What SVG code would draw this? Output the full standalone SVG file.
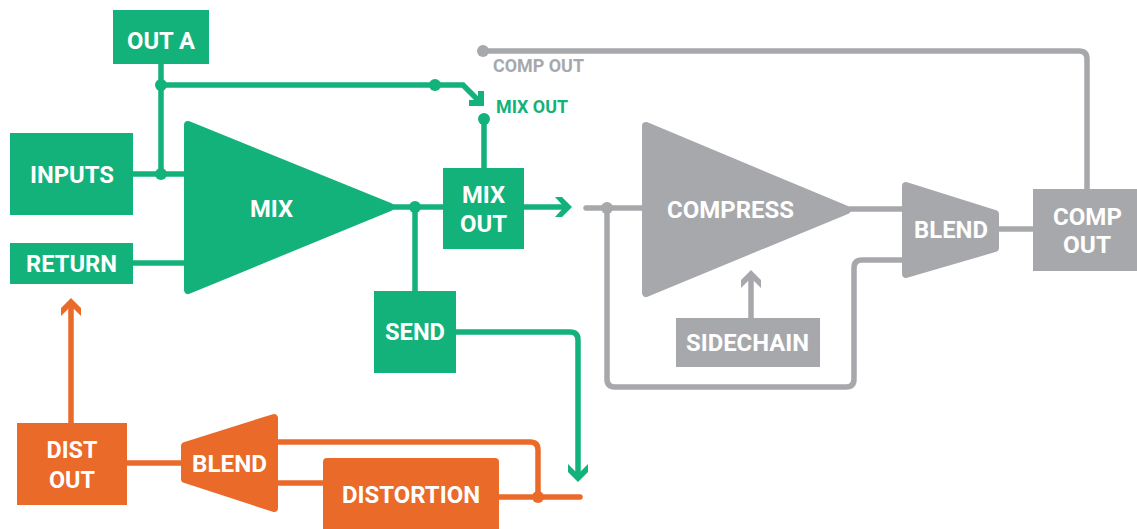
<svg xmlns="http://www.w3.org/2000/svg" width="1137" height="529" viewBox="0 0 1137 529">
<style>
.g{fill:#13B27B}.gs{stroke:#13B27B}
.y{fill:#A7A8AB}.ys{stroke:#A7A8AB}
.o{fill:#EA6A2A}.os{stroke:#EA6A2A}
.ln{fill:none;stroke-width:5.5;stroke-linecap:butt}
.rnd{stroke-linecap:round}
.t{font-family:Roboto,"Liberation Sans",sans-serif;font-weight:bold;font-size:24px;fill:#fff;text-anchor:middle}
.lbl{font-family:Roboto,"Liberation Sans",sans-serif;font-weight:bold;font-size:18px}
.shape{stroke-width:8;stroke-linejoin:round}
</style>
<rect width="1137" height="529" fill="#fff"/>
<g id="connectors">
  <!-- green -->
  <path class="ln gs" d="M161,64 V174"/>
  <path class="ln gs" d="M161,85 H463 L479,101"/>
  <path class="g" d="M484,106 L469,106 L469,100 L478,100 L478,91 L484,91 Z"/>
  <path class="ln gs" d="M133,174 H186"/>
  <path class="ln gs" d="M133,263 H186"/>
  <path class="ln gs" d="M392,207 H443"/>
  <path class="ln gs" d="M415,207 V291"/>
  <path class="ln gs" d="M484,119 V168"/>
  <path class="ln gs" d="M524,207 H567"/>
  <path class="g" d="M572,207 L562,197 L555,197 L564,207 L555,217 L562,217 Z"/>
  <path class="ln gs" d="M456,332 H570 Q578,332 578,340 V476"/>
  <path class="g" d="M578,482 L568,472 L568,464 L578,474 L588,464 L588,472 Z"/>
  <circle class="g" cx="161" cy="85" r="6"/>
  <circle class="g" cx="435" cy="85" r="6"/>
  <circle class="g" cx="161" cy="174" r="6"/>
  <circle class="g" cx="415" cy="207" r="6"/>
  <circle class="g" cx="484" cy="119" r="6"/>
  <!-- gray -->
  <path class="ln ys rnd" d="M586,208 H644"/>
  <path class="ln ys" d="M607,208 V379 Q607,387 615,387 H846 Q854,387 854,379 V268 Q854,260 862,260 H905"/>
  <circle class="y" cx="607" cy="208" r="6"/>
  <path class="ln ys" d="M849,209 H905"/>
  <path class="ln ys" d="M996,229 H1033"/>
  <path class="ln ys" d="M751,318 V276"/>
  <path class="y" d="M751,270 L761,280 L761,288 L751,278 L741,288 L741,280 Z"/>
  <path class="ln ys" d="M1087,189 V59 Q1087,51 1079,51 H483"/>
  <circle class="y" cx="483" cy="51" r="6"/>
  <!-- orange -->
  <path class="ln os" d="M71,423 V304"/>
  <path class="o" d="M71,298 L81,308 L81,316 L71,306 L61,316 L61,308 Z"/>
  <path class="ln os" d="M127,463 H184"/>
  <path class="ln os" d="M275,442 H530 Q538,442 538,450 V497"/>
  <path class="ln os" d="M275,483 H323"/>
  <path class="ln os rnd" d="M499,497 H580"/>
  <circle class="o" cx="538" cy="497" r="6"/>
</g>
<g id="out-a"><rect class="g" x="113" y="10" width="96" height="54"/><text class="t" x="161" y="49" textLength="68" lengthAdjust="spacingAndGlyphs">OUT A</text></g>
<g id="inputs"><rect class="g" x="10" y="133" width="123" height="82"/><text class="t" x="72" y="183" textLength="84" lengthAdjust="spacingAndGlyphs">INPUTS</text></g>
<g id="return"><rect class="g" x="10" y="243" width="123" height="41"/><text class="t" x="71.5" y="272" textLength="91" lengthAdjust="spacingAndGlyphs">RETURN</text></g>
<g id="mix"><polygon class="g gs shape" points="188,125 390,207 188,290"/><text class="t" x="271.5" y="217" textLength="43" lengthAdjust="spacingAndGlyphs">MIX</text></g>
<g id="mix-out"><rect class="g" x="443" y="168" width="81" height="81"/><text class="t" x="483.5" y="203" textLength="43" lengthAdjust="spacingAndGlyphs">MIX</text><text class="t" x="483.5" y="232" textLength="47" lengthAdjust="spacingAndGlyphs">OUT</text></g>
<g id="mix-out-label"><text class="lbl g" x="496" y="113" textLength="72" lengthAdjust="spacingAndGlyphs">MIX OUT</text></g>
<g id="comp-out-label"><text class="lbl y" x="493" y="72" textLength="91" lengthAdjust="spacingAndGlyphs">COMP OUT</text></g>
<g id="send"><rect class="g" x="374" y="291" width="82" height="82"/><text class="t" x="415" y="340" textLength="60" lengthAdjust="spacingAndGlyphs">SEND</text></g>
<g id="compress"><polygon class="y ys shape" points="646,126 847,210 646,293"/><text class="t" x="730.5" y="218" textLength="127" lengthAdjust="spacingAndGlyphs">COMPRESS</text></g>
<g id="blend-comp"><polygon class="y ys shape" points="906,186 995,214 995,248 906,274"/><text class="t" x="951" y="238" textLength="74" lengthAdjust="spacingAndGlyphs">BLEND</text></g>
<g id="comp-out"><rect class="y" x="1033" y="189" width="104" height="82"/><text class="t" x="1087.5" y="225" textLength="69" lengthAdjust="spacingAndGlyphs">COMP</text><text class="t" x="1087" y="253" textLength="48" lengthAdjust="spacingAndGlyphs">OUT</text></g>
<g id="sidechain"><rect class="y" x="676" y="318" width="144" height="49"/><text class="t" x="747.5" y="351" textLength="123" lengthAdjust="spacingAndGlyphs">SIDECHAIN</text></g>
<g id="dist-out"><rect class="o" x="17" y="423" width="110" height="82"/><text class="t" x="72" y="458" textLength="51" lengthAdjust="spacingAndGlyphs">DIST</text><text class="t" x="72" y="488" textLength="46" lengthAdjust="spacingAndGlyphs">OUT</text></g>
<g id="blend-dist"><polygon class="o os shape" points="185,446 274,418 274,508 185,479"/><text class="t" x="229.5" y="472" textLength="75" lengthAdjust="spacingAndGlyphs">BLEND</text></g>
<g id="distortion"><rect class="o" x="323" y="458" width="176" height="80" rx="4"/><text class="t" x="411" y="503" textLength="138" lengthAdjust="spacingAndGlyphs">DISTORTION</text></g>
</svg>
